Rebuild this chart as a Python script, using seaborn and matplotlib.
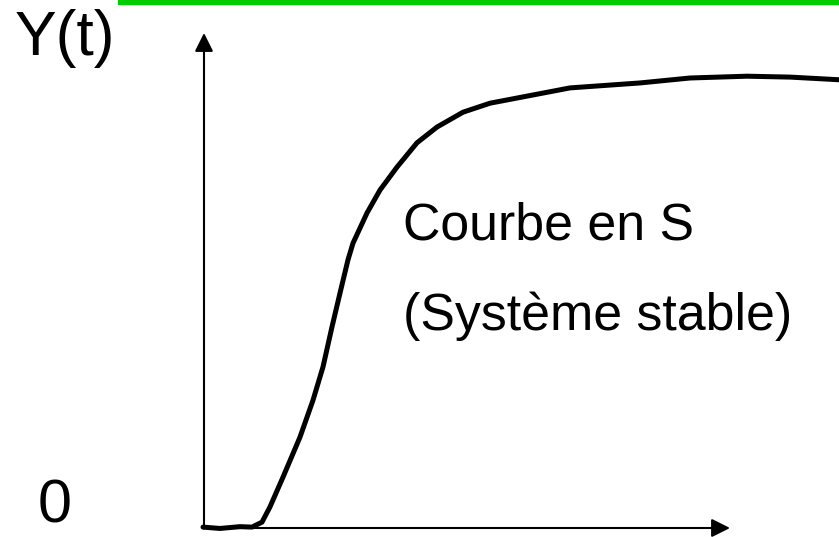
import matplotlib
matplotlib.use("Agg")
import matplotlib.pyplot as plt
import matplotlib.patches as mpatches
import pandas as pd
import seaborn as sns

# Step response (t in arbitrary units, Y normalised to the plateau)
t_values = [-0.02, 0.32, 0.72, 0.96, 1.16, 1.32, 1.58, 1.92, 2.18, 2.38, 2.56, 2.72,
            2.88, 2.98, 3.26, 3.52, 3.86, 4.26, 4.66, 5.18, 5.72, 6.38, 7.32, 8.72,
            9.72, 10.86, 11.72, 12.72]
y_values = [0.002, -0.001, 0.003, 0.002, 0.013, 0.047, 0.113, 0.202, 0.284, 0.358,
            0.447, 0.522, 0.596, 0.633, 0.700, 0.751, 0.802, 0.856, 0.891, 0.924,
            0.944, 0.958, 0.978, 0.989, 1.000, 1.004, 1.002, 0.996]

y_label = "Y(t)"
zero_label = "0"
curve_labels = ["Courbe en S", "(Système stable)"]

# Axes extent (t end of the horizontal arrow, Y end of the vertical arrow)
t_arrow_end = 10.52
y_arrow_end = 1.10

sns.set_theme(style="white")
plt.rcParams["font.family"] = ["Liberation Sans", "DejaVu Sans"]
plt.rcParams["text.color"] = "black"

fig = plt.figure(figsize=(8.39, 5.37), dpi=100)
ax = fig.add_axes([0, 0, 1, 1])

df = pd.DataFrame({"t": t_values, "y": y_values})
sns.lineplot(data=df, x="t", y="y", sort=False, estimator=None,
             color="black", linewidth=3.6, ax=ax,
             solid_joinstyle="round", solid_capstyle="round")

# Arrow axes
arrow_kw = dict(arrowstyle="-|>,head_length=0.4,head_width=0.2", mutation_scale=28,
                color="black", lw=1.5, shrinkA=0, shrinkB=0)
ax.annotate("", xy=(0, y_arrow_end), xytext=(0, -0.001), arrowprops=arrow_kw)
ax.annotate("", xy=(t_arrow_end, 0), xytext=(-0.02, 0), arrowprops=arrow_kw)

# Labels
ax.text(-3.78, 1.051, y_label, fontsize=45, va="baseline", ha="left", color="black")
ax.text(-3.32, -0.017, zero_label, fontsize=44, va="bottom", ha="left", color="black")
ax.text(3.98, 0.64, curve_labels[0], fontsize=37.4, va="baseline", ha="left",
        color="black")
ax.text(3.98, 0.44, curve_labels[1], fontsize=37.4, va="baseline", ha="left",
        color="black")

ax.set_xlim(-204 / 50, (839 - 204) / 50)
ax.set_ylim(-(537 - 528) / 450, 528 / 450)
ax.axis("off")

# green rule at the top edge
fig.patches.append(mpatches.Rectangle((118 / 839, 1 - 4 / 537), 1 - 118 / 839, 4 / 537,
                                      transform=fig.transFigure, color="#00cc00",
                                      zorder=5))

fig.savefig("out.png", dpi=100)
